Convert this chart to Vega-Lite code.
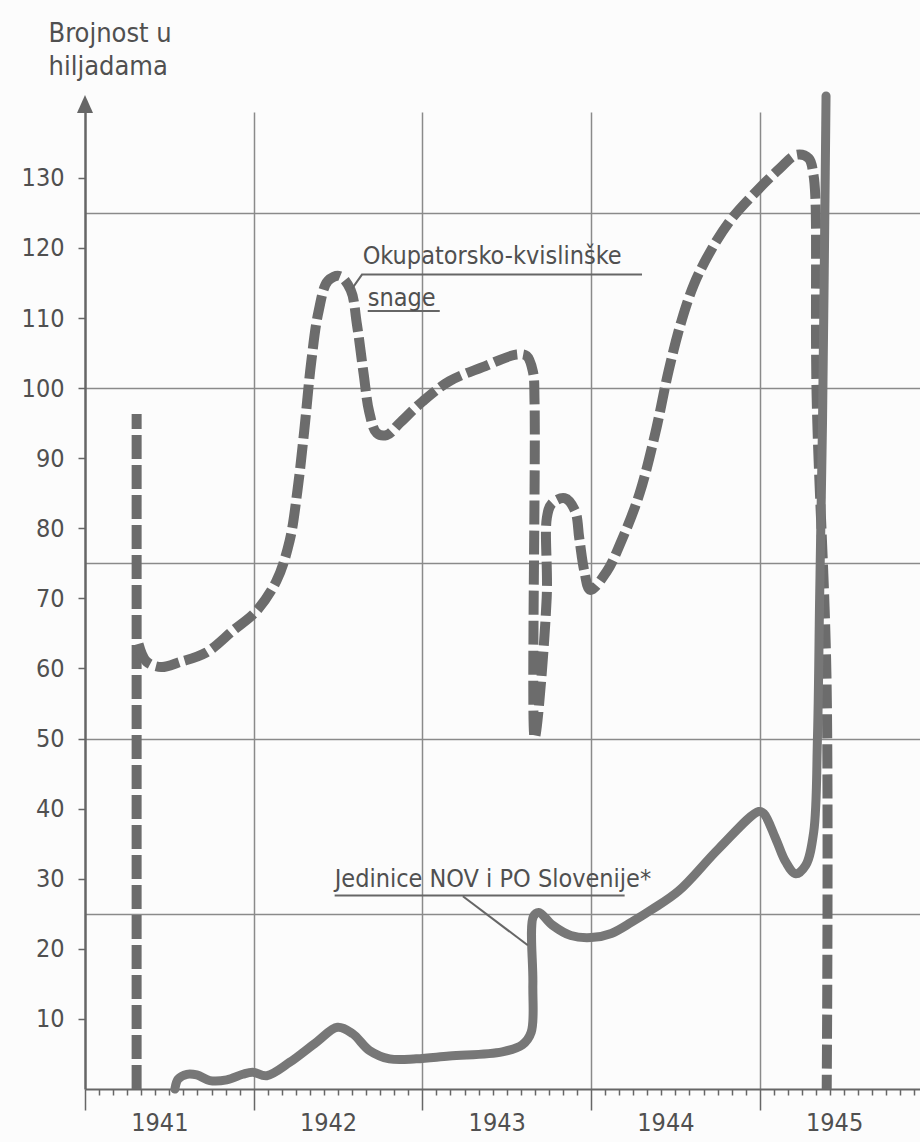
{
  "$schema": "https://vega.github.io/schema/vega-lite/v6.json",
  "width": 835,
  "height": 977,
  "autosize": {"type": "none"},
  "padding": {"left": 85, "top": 112, "right": 0, "bottom": 53},
  "datasets": {
    "serije": [
      {"serija": "Okupatorsko-kvislinške snage", "dio": "oznaka", "godina": 1941.306, "broj": 0},
      {"serija": "Okupatorsko-kvislinške snage", "dio": "oznaka", "godina": 1941.3061, "broj": 96.3},
      {"serija": "Okupatorsko-kvislinške snage", "dio": "krivulja", "godina": 1941.317, "broj": 63.5},
      {"serija": "Okupatorsko-kvislinške snage", "dio": "krivulja", "godina": 1941.364, "broj": 61.0},
      {"serija": "Okupatorsko-kvislinške snage", "dio": "krivulja", "godina": 1941.453, "broj": 60.2},
      {"serija": "Okupatorsko-kvislinške snage", "dio": "krivulja", "godina": 1941.561, "broj": 60.9},
      {"serija": "Okupatorsko-kvislinške snage", "dio": "krivulja", "godina": 1941.72, "broj": 62.3},
      {"serija": "Okupatorsko-kvislinške snage", "dio": "krivulja", "godina": 1941.877, "broj": 65.4},
      {"serija": "Okupatorsko-kvislinške snage", "dio": "krivulja", "godina": 1942.016, "broj": 68.2},
      {"serija": "Okupatorsko-kvislinške snage", "dio": "krivulja", "godina": 1942.135, "broj": 72.5},
      {"serija": "Okupatorsko-kvislinške snage", "dio": "krivulja", "godina": 1942.213, "broj": 78.2},
      {"serija": "Okupatorsko-kvislinške snage", "dio": "krivulja", "godina": 1942.26, "broj": 85.5},
      {"serija": "Okupatorsko-kvislinške snage", "dio": "krivulja", "godina": 1942.30, "broj": 94.0},
      {"serija": "Okupatorsko-kvislinške snage", "dio": "krivulja", "godina": 1942.34, "broj": 103.5},
      {"serija": "Okupatorsko-kvislinške snage", "dio": "krivulja", "godina": 1942.385, "broj": 111.0},
      {"serija": "Okupatorsko-kvislinške snage", "dio": "krivulja", "godina": 1942.44, "broj": 115.3},
      {"serija": "Okupatorsko-kvislinške snage", "dio": "krivulja", "godina": 1942.509, "broj": 116.0},
      {"serija": "Okupatorsko-kvislinške snage", "dio": "krivulja", "godina": 1942.575, "broj": 114.0},
      {"serija": "Okupatorsko-kvislinške snage", "dio": "krivulja", "godina": 1942.612, "broj": 109.1},
      {"serija": "Okupatorsko-kvislinške snage", "dio": "krivulja", "godina": 1942.652, "broj": 102.0},
      {"serija": "Okupatorsko-kvislinške snage", "dio": "krivulja", "godina": 1942.685, "broj": 96.6},
      {"serija": "Okupatorsko-kvislinške snage", "dio": "krivulja", "godina": 1942.729, "broj": 93.6},
      {"serija": "Okupatorsko-kvislinške snage", "dio": "krivulja", "godina": 1942.788, "broj": 93.3},
      {"serija": "Okupatorsko-kvislinške snage", "dio": "krivulja", "godina": 1942.865, "broj": 95.0},
      {"serija": "Okupatorsko-kvislinške snage", "dio": "krivulja", "godina": 1943.001, "broj": 98.1},
      {"serija": "Okupatorsko-kvislinške snage", "dio": "krivulja", "godina": 1943.161, "broj": 101.0},
      {"serija": "Okupatorsko-kvislinške snage", "dio": "krivulja", "godina": 1943.357, "broj": 103.0},
      {"serija": "Okupatorsko-kvislinške snage", "dio": "krivulja", "godina": 1943.559, "broj": 104.8},
      {"serija": "Okupatorsko-kvislinške snage", "dio": "krivulja", "godina": 1943.618, "broj": 104.6},
      {"serija": "Okupatorsko-kvislinške snage", "dio": "krivulja", "godina": 1943.655, "broj": 102.4},
      {"serija": "Okupatorsko-kvislinške snage", "dio": "krivulja", "godina": 1943.665, "broj": 98.0},
      {"serija": "Okupatorsko-kvislinške snage", "dio": "krivulja", "godina": 1943.666, "broj": 50.1},
      {"serija": "Okupatorsko-kvislinške snage", "dio": "krivulja", "godina": 1943.737, "broj": 70.1},
      {"serija": "Okupatorsko-kvislinške snage", "dio": "krivulja", "godina": 1943.738, "broj": 81.5},
      {"serija": "Okupatorsko-kvislinške snage", "dio": "krivulja", "godina": 1943.766, "broj": 83.5},
      {"serija": "Okupatorsko-kvislinške snage", "dio": "krivulja", "godina": 1943.843, "broj": 84.3},
      {"serija": "Okupatorsko-kvislinške snage", "dio": "krivulja", "godina": 1943.905, "broj": 82.5},
      {"serija": "Okupatorsko-kvislinške snage", "dio": "krivulja", "godina": 1943.93, "broj": 78.6},
      {"serija": "Okupatorsko-kvislinške snage", "dio": "krivulja", "godina": 1943.96, "broj": 73.9},
      {"serija": "Okupatorsko-kvislinške snage", "dio": "krivulja", "godina": 1943.995, "broj": 71.2},
      {"serija": "Okupatorsko-kvislinške snage", "dio": "krivulja", "godina": 1944.092, "broj": 73.8},
      {"serija": "Okupatorsko-kvislinške snage", "dio": "krivulja", "godina": 1944.187, "broj": 78.6},
      {"serija": "Okupatorsko-kvislinške snage", "dio": "krivulja", "godina": 1944.288, "broj": 85.0},
      {"serija": "Okupatorsko-kvislinške snage", "dio": "krivulja", "godina": 1944.38, "broj": 93.5},
      {"serija": "Okupatorsko-kvislinške snage", "dio": "krivulja", "godina": 1944.46, "broj": 102.5},
      {"serija": "Okupatorsko-kvislinške snage", "dio": "krivulja", "godina": 1944.535, "broj": 109.5},
      {"serija": "Okupatorsko-kvislinške snage", "dio": "krivulja", "godina": 1944.61, "broj": 114.8},
      {"serija": "Okupatorsko-kvislinške snage", "dio": "krivulja", "godina": 1944.70, "broj": 119.2},
      {"serija": "Okupatorsko-kvislinške snage", "dio": "krivulja", "godina": 1944.821, "broj": 123.8},
      {"serija": "Okupatorsko-kvislinške snage", "dio": "krivulja", "godina": 1944.981, "broj": 128.1},
      {"serija": "Okupatorsko-kvislinške snage", "dio": "krivulja", "godina": 1945.117, "broj": 131.3},
      {"serija": "Okupatorsko-kvislinške snage", "dio": "krivulja", "godina": 1945.218, "broj": 133.3},
      {"serija": "Okupatorsko-kvislinške snage", "dio": "krivulja", "godina": 1945.29, "broj": 132.8},
      {"serija": "Okupatorsko-kvislinške snage", "dio": "krivulja", "godina": 1945.318, "broj": 130.5},
      {"serija": "Okupatorsko-kvislinške snage", "dio": "krivulja", "godina": 1945.33, "broj": 127.0},
      {"serija": "Okupatorsko-kvislinške snage", "dio": "krivulja", "godina": 1945.337, "broj": 99.1},
      {"serija": "Okupatorsko-kvislinške snage", "dio": "krivulja", "godina": 1945.396, "broj": 58.3},
      {"serija": "Okupatorsko-kvislinške snage", "dio": "krivulja", "godina": 1945.397, "broj": 0},
      {"serija": "Jedinice NOV i PO Slovenije", "dio": "krivulja", "godina": 1941.533, "broj": 0},
      {"serija": "Jedinice NOV i PO Slovenije", "dio": "krivulja", "godina": 1941.552, "broj": 1.4},
      {"serija": "Jedinice NOV i PO Slovenije", "dio": "krivulja", "godina": 1941.604, "broj": 2.1},
      {"serija": "Jedinice NOV i PO Slovenije", "dio": "krivulja", "godina": 1941.663, "broj": 2.0},
      {"serija": "Jedinice NOV i PO Slovenije", "dio": "krivulja", "godina": 1941.74, "broj": 1.2},
      {"serija": "Jedinice NOV i PO Slovenije", "dio": "krivulja", "godina": 1941.84, "broj": 1.3},
      {"serija": "Jedinice NOV i PO Slovenije", "dio": "krivulja", "godina": 1941.935, "broj": 2.1},
      {"serija": "Jedinice NOV i PO Slovenije", "dio": "krivulja", "godina": 1941.994, "broj": 2.4},
      {"serija": "Jedinice NOV i PO Slovenije", "dio": "krivulja", "godina": 1942.077, "broj": 1.9},
      {"serija": "Jedinice NOV i PO Slovenije", "dio": "krivulja", "godina": 1942.213, "broj": 3.8},
      {"serija": "Jedinice NOV i PO Slovenije", "dio": "krivulja", "godina": 1942.373, "broj": 6.7},
      {"serija": "Jedinice NOV i PO Slovenije", "dio": "krivulja", "godina": 1942.497, "broj": 8.8},
      {"serija": "Jedinice NOV i PO Slovenije", "dio": "krivulja", "godina": 1942.586, "broj": 7.9},
      {"serija": "Jedinice NOV i PO Slovenije", "dio": "krivulja", "godina": 1942.686, "broj": 5.5},
      {"serija": "Jedinice NOV i PO Slovenije", "dio": "krivulja", "godina": 1942.805, "broj": 4.3},
      {"serija": "Jedinice NOV i PO Slovenije", "dio": "krivulja", "godina": 1942.964, "broj": 4.3},
      {"serija": "Jedinice NOV i PO Slovenije", "dio": "krivulja", "godina": 1943.16, "broj": 4.7},
      {"serija": "Jedinice NOV i PO Slovenije", "dio": "krivulja", "godina": 1943.473, "broj": 5.3},
      {"serija": "Jedinice NOV i PO Slovenije", "dio": "krivulja", "godina": 1943.592, "broj": 6.3},
      {"serija": "Jedinice NOV i PO Slovenije", "dio": "krivulja", "godina": 1943.645, "broj": 8.1},
      {"serija": "Jedinice NOV i PO Slovenije", "dio": "krivulja", "godina": 1943.655, "broj": 15.0},
      {"serija": "Jedinice NOV i PO Slovenije", "dio": "krivulja", "godina": 1943.658, "broj": 24.6},
      {"serija": "Jedinice NOV i PO Slovenije", "dio": "krivulja", "godina": 1943.69, "broj": 25.2},
      {"serija": "Jedinice NOV i PO Slovenije", "dio": "krivulja", "godina": 1943.77, "broj": 23.4},
      {"serija": "Jedinice NOV i PO Slovenije", "dio": "krivulja", "godina": 1943.88, "broj": 21.9},
      {"serija": "Jedinice NOV i PO Slovenije", "dio": "krivulja", "godina": 1944.0, "broj": 21.6},
      {"serija": "Jedinice NOV i PO Slovenije", "dio": "krivulja", "godina": 1944.12, "broj": 22.2},
      {"serija": "Jedinice NOV i PO Slovenije", "dio": "krivulja", "godina": 1944.24, "broj": 23.8},
      {"serija": "Jedinice NOV i PO Slovenije", "dio": "krivulja", "godina": 1944.36, "broj": 25.6},
      {"serija": "Jedinice NOV i PO Slovenije", "dio": "krivulja", "godina": 1944.521, "broj": 28.3},
      {"serija": "Jedinice NOV i PO Slovenije", "dio": "krivulja", "godina": 1944.757, "broj": 34.3},
      {"serija": "Jedinice NOV i PO Slovenije", "dio": "krivulja", "godina": 1944.994, "broj": 39.6},
      {"serija": "Jedinice NOV i PO Slovenije", "dio": "krivulja", "godina": 1945.024, "broj": 39.3},
      {"serija": "Jedinice NOV i PO Slovenije", "dio": "krivulja", "godina": 1945.095, "broj": 35.7},
      {"serija": "Jedinice NOV i PO Slovenije", "dio": "krivulja", "godina": 1945.154, "broj": 32.4},
      {"serija": "Jedinice NOV i PO Slovenije", "dio": "krivulja", "godina": 1945.213, "broj": 30.7},
      {"serija": "Jedinice NOV i PO Slovenije", "dio": "krivulja", "godina": 1945.272, "broj": 31.9},
      {"serija": "Jedinice NOV i PO Slovenije", "dio": "krivulja", "godina": 1945.32, "broj": 36.7},
      {"serija": "Jedinice NOV i PO Slovenije", "dio": "krivulja", "godina": 1945.342, "broj": 50.0},
      {"serija": "Jedinice NOV i PO Slovenije", "dio": "krivulja", "godina": 1945.355, "broj": 70.0},
      {"serija": "Jedinice NOV i PO Slovenije", "dio": "krivulja", "godina": 1945.372, "broj": 95.0},
      {"serija": "Jedinice NOV i PO Slovenije", "dio": "krivulja", "godina": 1945.393, "broj": 141.7}
    ],
    "natpisi": [
      {"tekst": "Okupatorsko-kvislinške", "godina": 1942.646, "broj": 117.7},
      {"tekst": "snage", "godina": 1942.676, "broj": 111.7},
      {"tekst": "Jedinice NOV i PO Slovenije*", "godina": 1942.48, "broj": 28.8}
    ],
    "crte": [
      {"crta": "okupatori", "godina": 1942.583, "broj": 114.2},
      {"crta": "okupatori", "godina": 1942.642, "broj": 116.2},
      {"crta": "okupatori", "godina": 1944.302, "broj": 116.2},
      {"crta": "snage", "godina": 1942.676, "broj": 111.0},
      {"crta": "snage", "godina": 1943.103, "broj": 111.0},
      {"crta": "jedinice", "godina": 1942.48, "broj": 27.6},
      {"crta": "jedinice", "godina": 1944.199, "broj": 27.6},
      {"crta": "vodilica", "godina": 1943.24, "broj": 27.5},
      {"crta": "vodilica", "godina": 1943.625, "broj": 20.5}
    ],
    "strelica": [
      {"godina": 1941, "broj": 140.4}
    ]
  },
  "encoding": {
    "x": {
      "field": "godina",
      "type": "quantitative",
      "scale": {"domain": [1941, 1945.95], "nice": false, "zero": false},
      "axis": {
        "title": null,
        "values": [1941, 1941.0833, 1941.1667, 1941.25, 1941.3333, 1941.4167, 1941.5, 1941.5833, 1941.6667, 1941.75, 1941.8333, 1941.9167,
                   1942, 1942.0833, 1942.1667, 1942.25, 1942.3333, 1942.4167, 1942.5, 1942.5833, 1942.6667, 1942.75, 1942.8333, 1942.9167,
                   1943, 1943.0833, 1943.1667, 1943.25, 1943.3333, 1943.4167, 1943.5, 1943.5833, 1943.6667, 1943.75, 1943.8333, 1943.9167,
                   1944, 1944.0833, 1944.1667, 1944.25, 1944.3333, 1944.4167, 1944.5, 1944.5833, 1944.6667, 1944.75, 1944.8333, 1944.9167,
                   1945, 1945.0833, 1945.1667, 1945.25, 1945.3333, 1945.4167, 1945.5, 1945.5833, 1945.6667, 1945.75, 1945.8333, 1945.9167],
        "labelExpr": "abs(datum.value % 1 - 0.5) < 0.001 ? format(floor(datum.value), 'd') : ''",
        "labelOverlap": false,
        "labelFlush": false,
        "labelFontSize": 25,
        "labelColor": "#505050",
        "labelOffset": -10,
        "labelPadding": 15,
        "tickSize": {"condition": {"test": "abs(datum.value - round(datum.value)) < 0.001", "value": 21}, "value": 6},
        "tickColor": "#666666",
        "tickWidth": 1.5,
        "grid": true,
        "gridColor": "#8a8a8a",
        "gridWidth": 1.5,
        "gridOpacity": {"condition": {"test": "abs(datum.value - round(datum.value)) < 0.001 && datum.value > 1941.5", "value": 1}, "value": 0},
        "domainColor": "#666666",
        "domainWidth": 2
      }
    },
    "y": {
      "field": "broj",
      "type": "quantitative",
      "scale": {"domain": [0, 139.4], "nice": false},
      "axis": {
        "title": ["Brojnost u", "hiljadama"],
        "titleAngle": 0,
        "titleAlign": "left",
        "titleBaseline": "top",
        "titleX": -37,
        "titleY": -92,
        "titleFontSize": 27,
        "titleFontWeight": "normal",
        "titleColor": "#505050",
        "titleLineHeight": 33,
        "values": [10, 20, 25, 30, 40, 50, 60, 70, 75, 80, 90, 100, 110, 120, 125, 130],
        "labelExpr": "datum.value % 10 === 0 ? datum.label : ''",
        "labelFontSize": 25,
        "labelColor": "#505050",
        "labelPadding": 14,
        "tickSize": 7,
        "tickColor": "#666666",
        "tickWidth": 1.5,
        "tickOpacity": {"condition": {"test": "datum.value % 10 === 0", "value": 1}, "value": 0},
        "grid": true,
        "gridColor": "#8a8a8a",
        "gridWidth": 1.5,
        "gridOpacity": {"condition": {"test": "datum.value % 25 === 0", "value": 1}, "value": 0},
        "domainColor": "#666666",
        "domainWidth": 2.5
      }
    }
  },
  "layer": [
    {
      "data": {"name": "serije"},
      "transform": [{"filter": "datum.serija === 'Okupatorsko-kvislinške snage'"}],
      "mark": {"type": "line", "interpolate": "catmull-rom", "strokeWidth": 10, "strokeDash": [24, 6], "strokeCap": "butt", "color": "#6c6c6c"},
      "encoding": {"detail": {"field": "dio"}}
    },
    {
      "data": {"name": "serije"},
      "transform": [{"filter": "datum.serija === 'Jedinice NOV i PO Slovenije'"}],
      "mark": {"type": "line", "interpolate": "catmull-rom", "strokeWidth": 9, "strokeCap": "round", "strokeJoin": "round", "color": "#777777"},
      "encoding": {"detail": {"field": "dio"}}
    },
    {
      "data": {"name": "crte"},
      "mark": {"type": "line", "strokeWidth": 2, "color": "#666666"},
      "encoding": {"detail": {"field": "crta"}}
    },
    {
      "data": {"name": "natpisi"},
      "mark": {"type": "text", "align": "left", "baseline": "alphabetic", "fontSize": 25, "color": "#505050"},
      "encoding": {"text": {"field": "tekst"}}
    },
    {
      "data": {"name": "strelica"},
      "mark": {"type": "point", "shape": "M-1,1L0,-1.25L1,1Z", "size": 256, "filled": true, "color": "#666666", "opacity": 1},
      "encoding": {}
    }
  ],
  "config": {
    "background": "#fcfcfc",
    "view": {"stroke": null},
    "font": "DejaVu Sans Condensed, DejaVu Sans, sans-serif",
    "text": {"font": "DejaVu Sans Condensed, DejaVu Sans, sans-serif"}
  }
}
